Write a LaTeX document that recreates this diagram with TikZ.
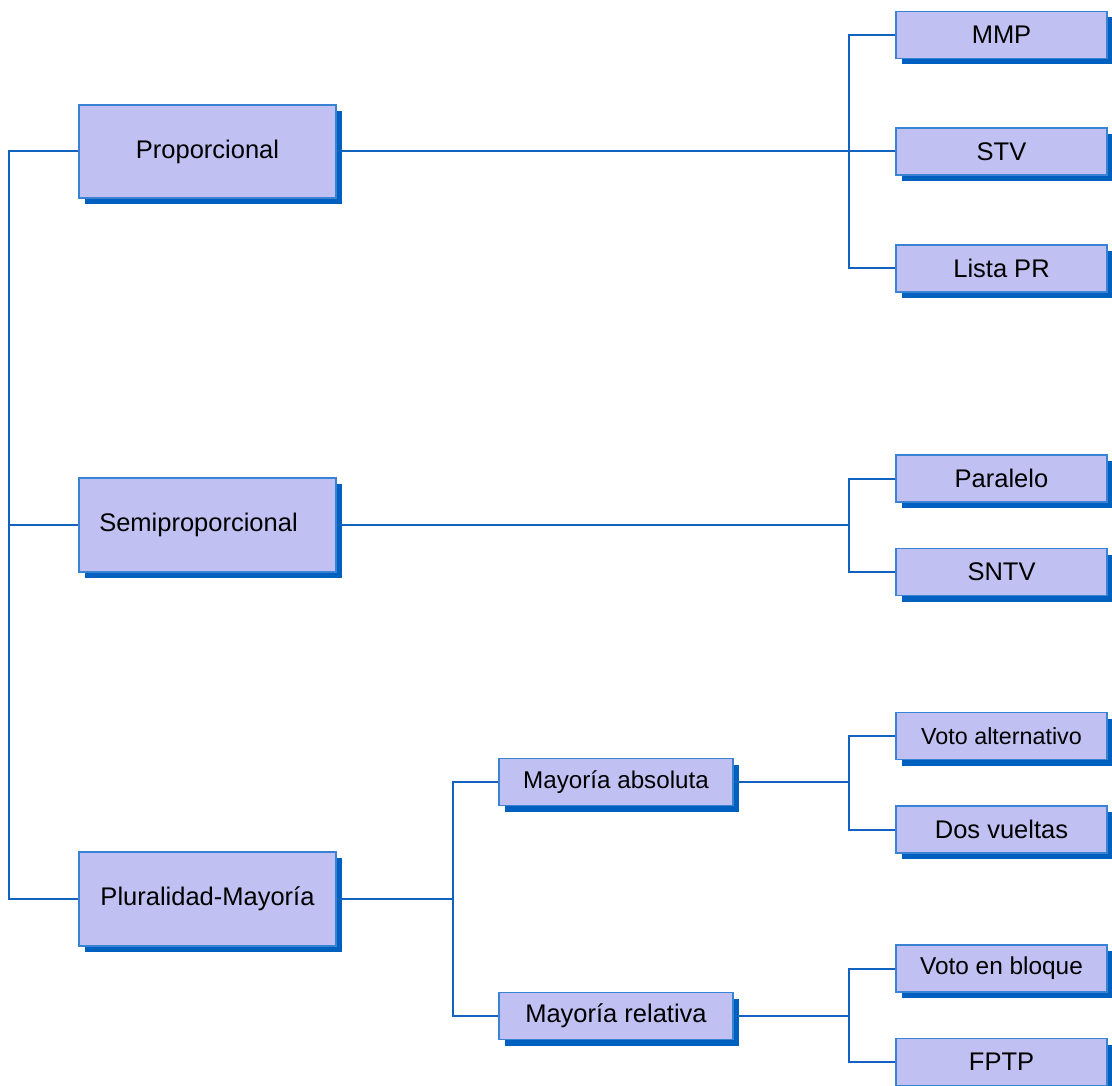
\documentclass[tikz,border=0pt]{standalone}
\usepackage{fontspec}
\setmainfont{Liberation Sans}
\usetikzlibrary{shadows}
\definecolor{lineblue}{RGB}{18,98,192}
\definecolor{boxborder}{RGB}{58,130,212}
\definecolor{boxfill}{RGB}{192,192,242}
\definecolor{shadowblue}{RGB}{0,96,192}
\tikzset{
  box/.style={rectangle, fill=boxfill, draw=boxborder, line width=1.6pt, inner sep=0pt,
    font=\fontsize{25.5}{30}\selectfont, text=black,
    drop shadow={shadow xshift=6pt, shadow yshift=-6pt, fill=shadowblue, opacity=1}},
  bigbox/.style={box, minimum width=257pt, minimum height=93.5pt},
  midbox/.style={box, minimum width=234pt, minimum height=47pt},
  leafbox/.style={box, minimum width=211pt, minimum height=47pt},
  conn/.style={draw=lineblue, line width=2pt}
}
\begin{document}
\begin{tikzpicture}[x=1pt,y=-1pt]
\useasboundingbox (0,0) rectangle (1112,1086);
% main boxes
\node[bigbox] (prop) at (207.5,151.5) {Proporcional};
\node[bigbox] (semi) at (207.5,525) {Semiproporcional\hspace*{18pt}};
\node[bigbox] (plur) at (207.5,899) {Pluralidad-Mayoría};
% middle boxes
\node[midbox, font=\fontsize{24.2}{28}\selectfont] (abs) at (616,782) {Mayoría absoluta};
\node[midbox] (rel) at (616,1016) {Mayoría relativa};
% leaves
\node[leafbox] (mmp) at (1001.5,35) {MMP};
\node[leafbox] (stv) at (1001.5,151.5) {STV};
\node[leafbox] (lista) at (1001.5,268.5) {Lista PR};
\node[leafbox] (para) at (1001.5,478.5) {Paralelo};
\node[leafbox] (sntv) at (1001.5,572) {SNTV};
\node[leafbox, font=\fontsize{23.3}{28}\selectfont] (valt) at (1001.5,736) {Voto alternativo};
\node[leafbox] (dos) at (1001.5,829.5) {Dos vueltas};
\node[leafbox, font=\fontsize{24.4}{28}\selectfont] (vbl) at (1001.5,968.5) {Voto en bloque};
\node[leafbox] (fptp) at (1001.5,1062) {FPTP};
% junction coordinates
\coordinate (jt) at (9,525);
\coordinate (jp) at (849,151.5);
\coordinate (js) at (849,525);
\coordinate (jm) at (453,899);
\coordinate (ja) at (849,782);
\coordinate (jr) at (849,1016);
% connectors
\draw[conn] (prop.west) -| (jt) |- (plur.west);
\draw[conn] (jt) -- (semi.west);
\draw[conn] (prop.east) -- (stv.west);
\draw[conn] (mmp.west) -| (jp) |- (lista.west);
\draw[conn] (semi.east) -- (js);
\draw[conn] (para.west) -| (js) |- (sntv.west);
\draw[conn] (plur.east) -- (jm);
\draw[conn] (abs.west) -| (jm) |- (rel.west);
\draw[conn] (abs.east) -- (ja);
\draw[conn] (valt.west) -| (ja) |- (dos.west);
\draw[conn] (rel.east) -- (jr);
\draw[conn] (vbl.west) -| (jr) |- (fptp.west);
\end{tikzpicture}
\end{document}
